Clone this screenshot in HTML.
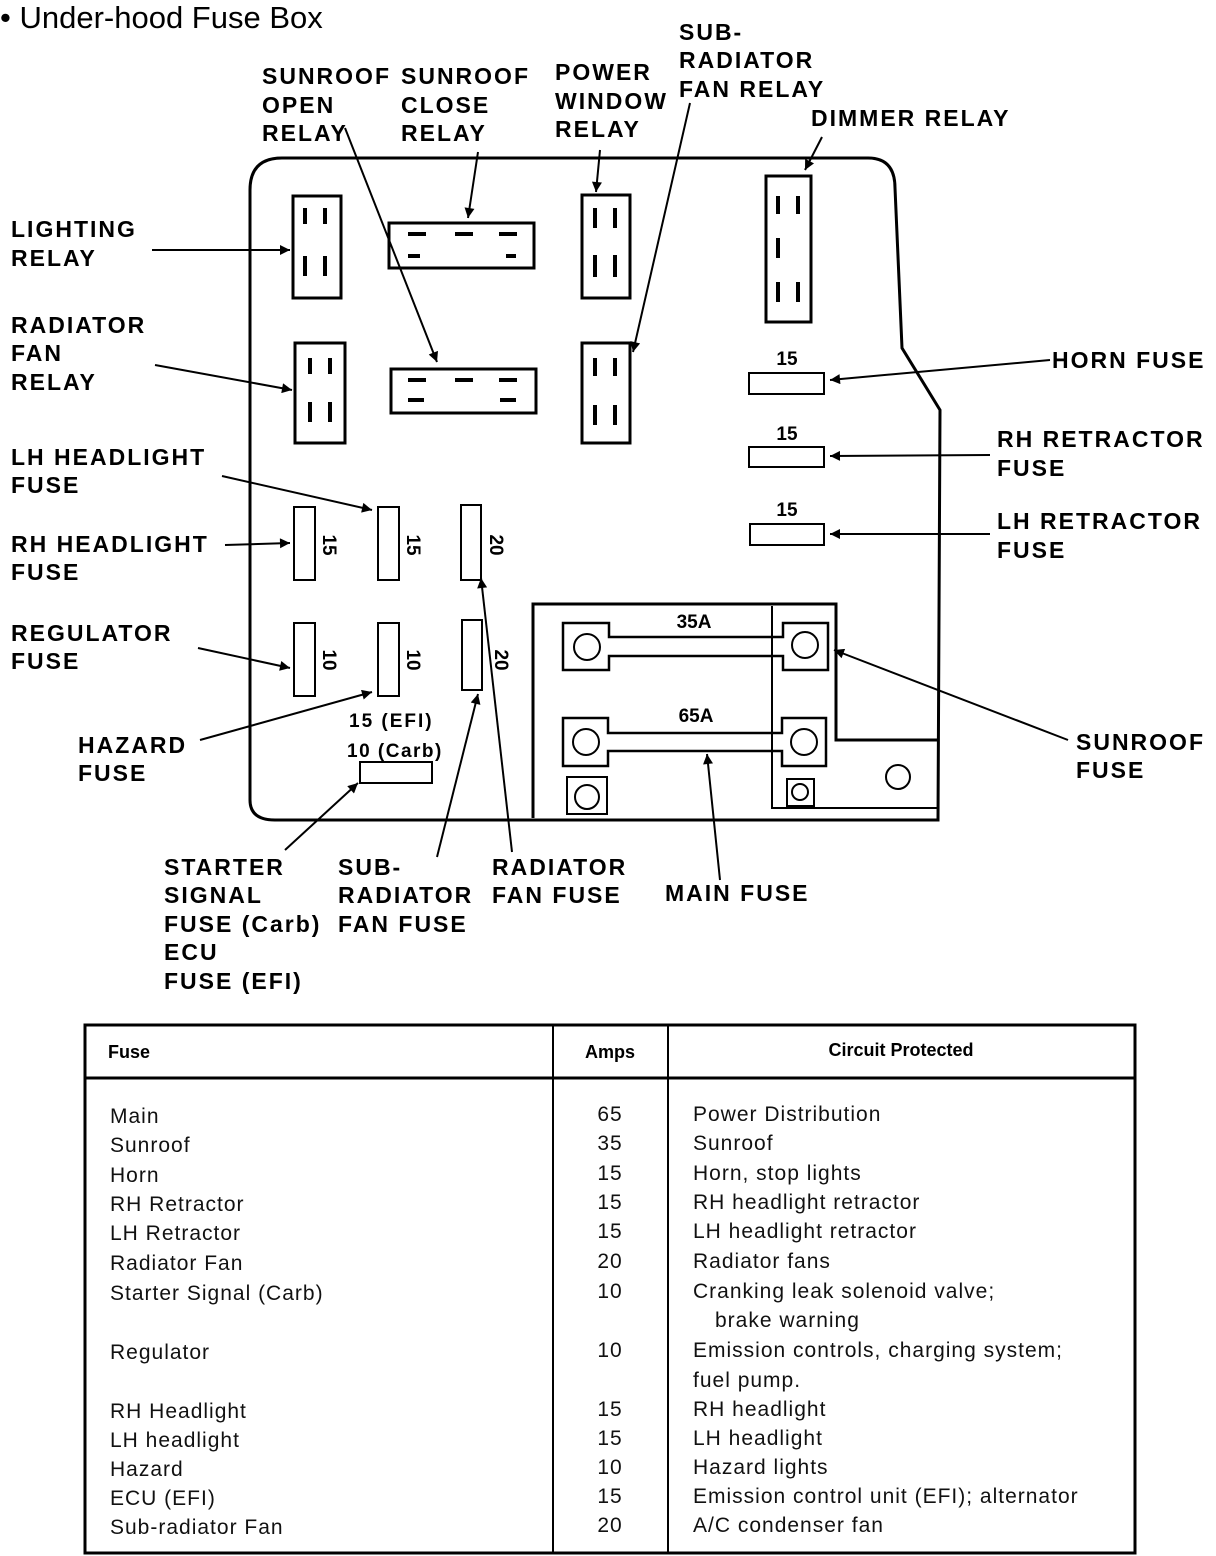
<!DOCTYPE html>
<html><head><meta charset="utf-8"><style>
body{margin:0;background:#fff;}
svg{display:block}
.b{font-family:"Liberation Sans",sans-serif;font-weight:bold;font-size:23px;fill:#000;letter-spacing:2px}
.s{font-family:"Liberation Sans",sans-serif;font-weight:bold;font-size:19px;fill:#000}
.t{font-family:"Liberation Sans",sans-serif;font-size:21px;fill:#111;letter-spacing:1px}
.h{font-family:"Liberation Sans",sans-serif;font-weight:bold;font-size:18px;fill:#000}
</style></head><body>
<svg width="1216" height="1556" viewBox="0 0 1216 1556" xmlns="http://www.w3.org/2000/svg">
<defs>
<marker id="a2" viewBox="0 0 10 10" refX="10" refY="5" markerWidth="20" markerHeight="10" orient="auto" markerUnits="userSpaceOnUse"><path d="M0,0L10,5L0,10z" fill="#000"/></marker></defs>
<text x="0" y="28" style="font-family:'Liberation Sans',sans-serif;font-size:31px">• Under-hood Fuse Box</text>
<g fill="none" stroke="#000" stroke-width="3">
<path d="M250,800 L250,190 Q250,158 282,158 L868,158 Q895,158 895,188 L902,348 L940,410 L938,820 L275,820 Q250,820 250,800 Z"/>
<rect x="293" y="196" width="48" height="102"/>
<rect x="295" y="343" width="50" height="100"/>
<rect x="389" y="223" width="145" height="45"/>
<rect x="391" y="369" width="145" height="44"/>
<rect x="582" y="195" width="48" height="103"/>
<rect x="582" y="343" width="48" height="100"/>
<rect x="766" y="176" width="45" height="146"/>
<rect x="749" y="373" width="75" height="21" stroke-width="2"/>
<rect x="749" y="447" width="75" height="20" stroke-width="2"/>
<rect x="750" y="524" width="74" height="21" stroke-width="2"/>
<rect x="294" y="507" width="21" height="73" stroke-width="2"/>
<rect x="378" y="507" width="21" height="73" stroke-width="2"/>
<rect x="461" y="505" width="20" height="75" stroke-width="2"/>
<rect x="294" y="623" width="21" height="73" stroke-width="2"/>
<rect x="378" y="623" width="21" height="73" stroke-width="2"/>
<rect x="462" y="620" width="20" height="70" stroke-width="2"/>
<rect x="360" y="762" width="72" height="21" stroke-width="2"/>
<path d="M533,818 L533,604 L836,604 L836,740 L938,740"/>
<path d="M772,606 L772,808 L938,808" stroke-width="2"/>
<path d="M563,623h46v14h174v-14h45v47h-45v-14h-174v14h-46z" stroke-width="2.5"/>
<path d="M563,718h45v15h174v-15h44v48h-44v-15h-174v15h-45z" stroke-width="2.5"/>
<rect x="567" y="777" width="40" height="37" stroke-width="2"/>
<rect x="787" y="779" width="27" height="27" stroke-width="2"/>
<g stroke-width="2"><circle cx="587" cy="647" r="13"/><circle cx="805" cy="645" r="13"/><circle cx="586" cy="742" r="13"/><circle cx="804" cy="742" r="13"/><circle cx="587" cy="797" r="12"/><circle cx="800" cy="792" r="8"/><circle cx="898" cy="777" r="12"/></g>
</g>
<g stroke="#000" stroke-width="4">
<path d="M305,208v16M325,208v16M305,256v20M325,256v20"/>
<path d="M310,358v16M330,358v16M310,402v20M330,402v20"/>
<path d="M595,208v20M615,208v20M595,255v22M615,255v22"/>
<path d="M595,358v18M615,358v18M595,405v20M615,405v20"/>
<path d="M778,196v18M798,196v18M778,238v20M778,282v20M798,282v20"/>
<path d="M408,234h18M455,234h18M499,234h18M408,256h12M506,256h10"/>
<path d="M408,380h18M455,380h18M499,380h18M408,400h16M500,400h16"/>
</g>
<g class="s">
<text x="787" y="365" text-anchor="middle">15</text>
<text x="787" y="440" text-anchor="middle">15</text>
<text x="787" y="516" text-anchor="middle">15</text>
<text x="694" y="628" text-anchor="middle">35A</text>
<text x="696" y="722" text-anchor="middle">65A</text>
<text x="349" y="727" style="letter-spacing:2px">15 (EFI)</text>
<text x="347" y="757" style="letter-spacing:1.5px">10 (Carb)</text>
<text transform="translate(323,545) rotate(90)" text-anchor="middle">15</text>
<text transform="translate(407,545) rotate(90)" text-anchor="middle">15</text>
<text transform="translate(490,545) rotate(90)" text-anchor="middle">20</text>
<text transform="translate(323,660) rotate(90)" text-anchor="middle">10</text>
<text transform="translate(407,660) rotate(90)" text-anchor="middle">10</text>
<text transform="translate(495,660) rotate(90)" text-anchor="middle">20</text>
</g>
<g stroke="#000" stroke-width="2" fill="none" marker-end="url(#a2)">
<line x1="345" y1="128" x2="437" y2="362"/>
<line x1="478" y1="152" x2="468" y2="218"/>
<line x1="600" y1="150" x2="596" y2="192"/>
<line x1="690" y1="103" x2="633" y2="352"/>
<line x1="822" y1="137" x2="805" y2="170"/>
<line x1="152" y1="250" x2="290" y2="250"/>
<line x1="155" y1="365" x2="292" y2="390"/>
<line x1="1050" y1="360" x2="830" y2="380"/>
<line x1="990" y1="455" x2="830" y2="456"/>
<line x1="990" y1="534" x2="830" y2="534"/>
<line x1="222" y1="476" x2="372" y2="510"/>
<line x1="225" y1="545" x2="290" y2="543"/>
<line x1="198" y1="648" x2="290" y2="668"/>
<line x1="200" y1="740" x2="372" y2="692"/>
<line x1="285" y1="850" x2="358" y2="783"/>
<line x1="437" y1="857" x2="478" y2="694"/>
<line x1="512" y1="852" x2="481" y2="578"/>
<line x1="720" y1="880" x2="707" y2="754"/>
<line x1="1068" y1="740" x2="834" y2="650"/>
</g>
<g class="b">
<text x="262" y="84">SUNROOF</text><text x="262" y="113">OPEN</text><text x="262" y="141">RELAY</text>
<text x="401" y="84">SUNROOF</text><text x="401" y="113">CLOSE</text><text x="401" y="141">RELAY</text>
<text x="555" y="80">POWER</text><text x="555" y="109">WINDOW</text><text x="555" y="137">RELAY</text>
<text x="679" y="40">SUB-</text><text x="679" y="68">RADIATOR</text><text x="679" y="97">FAN RELAY</text>
<text x="811" y="126">DIMMER RELAY</text>
<text x="11" y="237">LIGHTING</text><text x="11" y="266">RELAY</text>
<text x="11" y="333">RADIATOR</text><text x="11" y="361">FAN</text><text x="11" y="390">RELAY</text>
<text x="11" y="465">LH HEADLIGHT</text><text x="11" y="493">FUSE</text>
<text x="11" y="552">RH HEADLIGHT</text><text x="11" y="580">FUSE</text>
<text x="11" y="641">REGULATOR</text><text x="11" y="669">FUSE</text>
<text x="78" y="753">HAZARD</text><text x="78" y="781">FUSE</text>
<text x="1052" y="368">HORN FUSE</text>
<text x="997" y="447">RH RETRACTOR</text><text x="997" y="476">FUSE</text>
<text x="997" y="529">LH RETRACTOR</text><text x="997" y="558">FUSE</text>
<text x="1076" y="750">SUNROOF</text><text x="1076" y="778">FUSE</text>
<text x="164" y="875">STARTER</text><text x="164" y="903">SIGNAL</text><text x="164" y="932">FUSE (Carb)</text><text x="164" y="960">ECU</text><text x="164" y="989">FUSE (EFI)</text>
<text x="338" y="875">SUB-</text><text x="338" y="903">RADIATOR</text><text x="338" y="932">FAN FUSE</text>
<text x="492" y="875">RADIATOR</text><text x="492" y="903">FAN FUSE</text>
<text x="665" y="901">MAIN FUSE</text>
</g>
<g fill="none" stroke="#000">
<rect x="85" y="1025" width="1050" height="528" stroke-width="3"/>
<line x1="85" y1="1078" x2="1135" y2="1078" stroke-width="3"/>
<line x1="553" y1="1025" x2="553" y2="1553" stroke-width="2"/>
<line x1="668" y1="1025" x2="668" y2="1553" stroke-width="2"/>
</g>
<g class="h"><text x="108" y="1058">Fuse</text><text x="610" y="1058" text-anchor="middle">Amps</text><text x="901" y="1056" text-anchor="middle">Circuit Protected</text></g>
<g class="t">
<text x="110" y="1123">Main</text><text x="610" y="1121" text-anchor="middle">65</text><text x="693" y="1121">Power Distribution</text>
<text x="110" y="1152">Sunroof</text><text x="610" y="1150" text-anchor="middle">35</text><text x="693" y="1150">Sunroof</text>
<text x="110" y="1182">Horn</text><text x="610" y="1180" text-anchor="middle">15</text><text x="693" y="1180">Horn, stop lights</text>
<text x="110" y="1211">RH Retractor</text><text x="610" y="1209" text-anchor="middle">15</text><text x="693" y="1209">RH headlight retractor</text>
<text x="110" y="1240">LH Retractor</text><text x="610" y="1238" text-anchor="middle">15</text><text x="693" y="1238">LH headlight retractor</text>
<text x="110" y="1270">Radiator Fan</text><text x="610" y="1268" text-anchor="middle">20</text><text x="693" y="1268">Radiator fans</text>
<text x="110" y="1300">Starter Signal (Carb)</text><text x="610" y="1298" text-anchor="middle">10</text><text x="693" y="1298">Cranking leak solenoid valve;</text>
<text x="715" y="1327">brake warning</text>
<text x="110" y="1359">Regulator</text><text x="610" y="1357" text-anchor="middle">10</text><text x="693" y="1357">Emission controls, charging system;</text>
<text x="693" y="1387">fuel pump.</text>
<text x="110" y="1418">RH Headlight</text><text x="610" y="1416" text-anchor="middle">15</text><text x="693" y="1416">RH headlight</text>
<text x="110" y="1447">LH headlight</text><text x="610" y="1445" text-anchor="middle">15</text><text x="693" y="1445">LH headlight</text>
<text x="110" y="1476">Hazard</text><text x="610" y="1474" text-anchor="middle">10</text><text x="693" y="1474">Hazard lights</text>
<text x="110" y="1505">ECU (EFI)</text><text x="610" y="1503" text-anchor="middle">15</text><text x="693" y="1503">Emission control unit (EFI); alternator</text>
<text x="110" y="1534">Sub-radiator Fan</text><text x="610" y="1532" text-anchor="middle">20</text><text x="693" y="1532">A/C condenser fan</text>
</g>
</svg>
</body></html>
